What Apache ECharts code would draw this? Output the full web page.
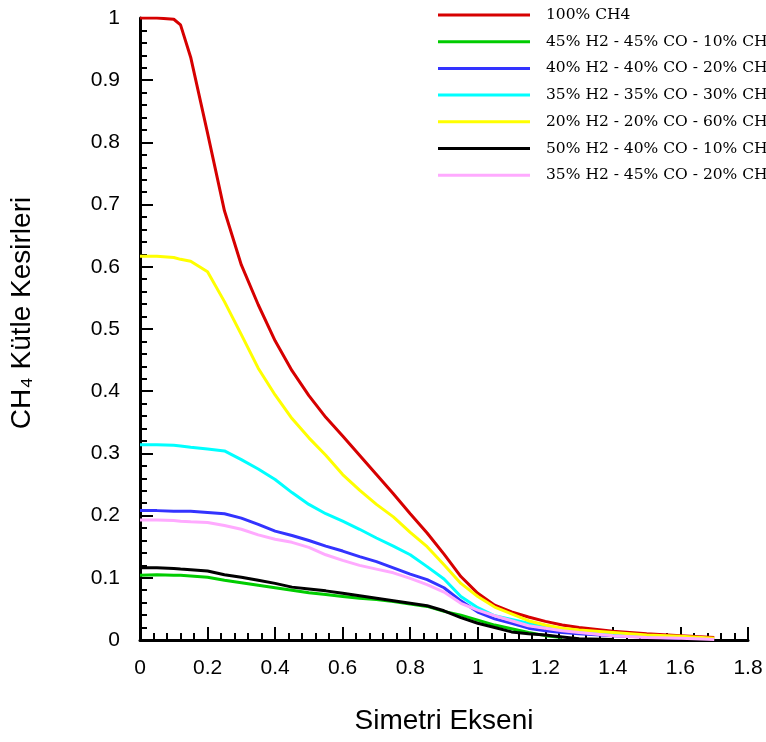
<!DOCTYPE html>
<html>
<head>
<meta charset="utf-8">
<script src="https://cdn.jsdelivr.net/npm/echarts@6/dist/echarts.min.js"></script>
<style>
  html, body { margin: 0; padding: 0; background: #fff; }
  #chart { width: 766px; height: 742px; }
</style>
</head>
<body>
<div id="chart"></div>
<script>
// Simetri ekseni boyunca noktalar
const xs = [0, 0.05, 0.1, 0.12, 0.15, 0.2, 0.25, 0.3, 0.35, 0.4, 0.45, 0.5, 0.55, 0.6, 0.65, 0.7,
  0.75, 0.8, 0.85, 0.9, 0.95, 1.0, 1.05, 1.1, 1.15, 1.2, 1.25, 1.3, 1.4, 1.5, 1.6, 1.7];

const ch4_100 = [1.0, 1.0, 0.998, 0.989, 0.937, 0.815, 0.69, 0.603, 0.539, 0.481, 0.433, 0.393, 0.358, 0.328, 0.297, 0.266,
  0.235, 0.203, 0.172, 0.138, 0.102, 0.075, 0.056, 0.045, 0.037, 0.030, 0.024, 0.020, 0.014, 0.010, 0.007, 0.004];
const mix_45_45_10 = [0.104, 0.105, 0.104, 0.104, 0.103, 0.101, 0.096, 0.092, 0.088, 0.084, 0.080, 0.076, 0.073, 0.070, 0.067, 0.065,
  0.062, 0.058, 0.054, 0.046, 0.040, 0.032, 0.024, 0.018, 0.012, 0.007, 0.004, null, null, null, null, null];
const mix_40_40_20 = [0.208, 0.208, 0.207, 0.207, 0.207, 0.205, 0.203, 0.196, 0.186, 0.175, 0.168, 0.160, 0.151, 0.143, 0.134, 0.126,
  0.116, 0.106, 0.097, 0.084, 0.063, 0.045, 0.034, 0.027, 0.019, 0.015, 0.012, 0.010, 0.007, 0.005, 0.003, null];
const mix_35_35_30 = [0.314, 0.314, 0.313, 0.312, 0.310, 0.307, 0.304, 0.290, 0.275, 0.258, 0.237, 0.218, 0.203, 0.191, 0.178, 0.164,
  0.151, 0.137, 0.118, 0.098, 0.070, 0.052, 0.039, 0.033, 0.027, 0.020, 0.016, 0.013, 0.009, 0.006, 0.004, null];
const mix_20_20_60 = [0.617, 0.617, 0.615, 0.612, 0.609, 0.592, 0.544, 0.491, 0.437, 0.394, 0.356, 0.325, 0.297, 0.266, 0.241, 0.218,
  0.198, 0.173, 0.150, 0.121, 0.091, 0.070, 0.053, 0.042, 0.031, 0.024, 0.019, 0.016, 0.012, 0.008, 0.006, 0.003];
const mix_50_40_10 = [0.116, 0.116, 0.115, 0.114, 0.113, 0.111, 0.105, 0.101, 0.096, 0.091, 0.085, 0.082, 0.079, 0.075, 0.071, 0.067,
  0.063, 0.059, 0.055, 0.047, 0.036, 0.027, 0.020, 0.013, 0.010, 0.008, 0.005, 0.002, 0.001, null, null, null];
const mix_35_45_20 = [0.193, 0.193, 0.192, 0.191, 0.190, 0.189, 0.184, 0.178, 0.169, 0.162, 0.157, 0.149, 0.137, 0.128, 0.120, 0.114,
  0.108, 0.099, 0.089, 0.077, 0.059, 0.048, 0.039, 0.031, 0.023, 0.019, 0.015, 0.012, 0.007, 0.004, 0.003, 0.001];

const seriesNames = [
  "100% CH4",
  "45% H2 - 45% CO - 10% CH4",
  "40% H2 - 40% CO - 20% CH4",
  "35% H2 - 35% CO - 30% CH4",
  "20% H2 - 20% CO - 60% CH4",
  "50% H2 - 40% CO - 10% CH4",
  "35% H2 - 45% CO - 20% CH4"
];
const seriesValues = [ch4_100, mix_45_45_10, mix_40_40_20, mix_35_35_30, mix_20_20_60, mix_50_40_10, mix_35_45_20];
const seriesColors = ["#d60000", "#00cc00", "#3333ff", "#00ffff", "#ffff00", "#000000", "#ffaaff"];

const chart = echarts.init(document.getElementById("chart"), null, { renderer: "canvas" });

const tickFont = { fontFamily: "Liberation Sans", fontSize: 21, color: "#000" };
const fmt = (v) => String(Math.round(v * 10) / 10);

const axisCommon = {
  type: "value",
  axisLine: { show: true, lineStyle: { color: "#000", width: 3 } },
  axisTick: { show: true, inside: true, length: 13, lineStyle: { color: "#000", width: 2 } },
  minorTick: { show: true, splitNumber: 5, length: 7, lineStyle: { color: "#000", width: 2 } },
  splitLine: { show: false },
  nameLocation: "middle"
};

chart.setOption({
  animation: false,
  backgroundColor: "#fff",
  color: seriesColors,
  grid: { left: 139, right: 18, top: 18, bottom: 102, containLabel: false },
  legend: {
    orient: "vertical",
    left: 438,
    top: 7,
    padding: 0,
    itemWidth: 92,
    itemHeight: 3,
    itemGap: 10.7,
    icon: "rect",
    textStyle: {
      fontFamily: "DejaVu Serif",
      fontSize: 15.5,
      lineHeight: 14,
      color: "#000",
      padding: [0, 0, 0, 11]
    },
    data: seriesNames
  },
  xAxis: Object.assign({}, axisCommon, {
    min: 0,
    max: 1.8,
    interval: 0.2,
    name: "Simetri Ekseni",
    nameGap: 67,
    nameTextStyle: { fontFamily: "Liberation Sans", fontSize: 28, color: "#000" },
    axisLabel: Object.assign({ margin: 18, formatter: fmt }, tickFont)
  }),
  yAxis: Object.assign({}, axisCommon, {
    min: 0,
    max: 1,
    interval: 0.1,
    name: "CH₄ Kütle Kesirleri",
    nameGap: 104,
    nameTextStyle: { fontFamily: "Liberation Sans", fontSize: 28, color: "#000", padding: [0, 0, 0, 32] },
    axisLabel: Object.assign({ margin: 20, formatter: fmt }, tickFont)
  }),
  series: seriesNames.map((name, i) => ({
    name: name,
    type: "line",
    data: xs.map((x, j) => [x, seriesValues[i][j]]),
    showSymbol: false,
    symbol: "none",
    smooth: false,
    connectNulls: false,
    lineStyle: { width: 3, color: seriesColors[i] },
    itemStyle: { color: seriesColors[i] },
    z: 2 + i
  }))
});
</script>
</body>
</html>
